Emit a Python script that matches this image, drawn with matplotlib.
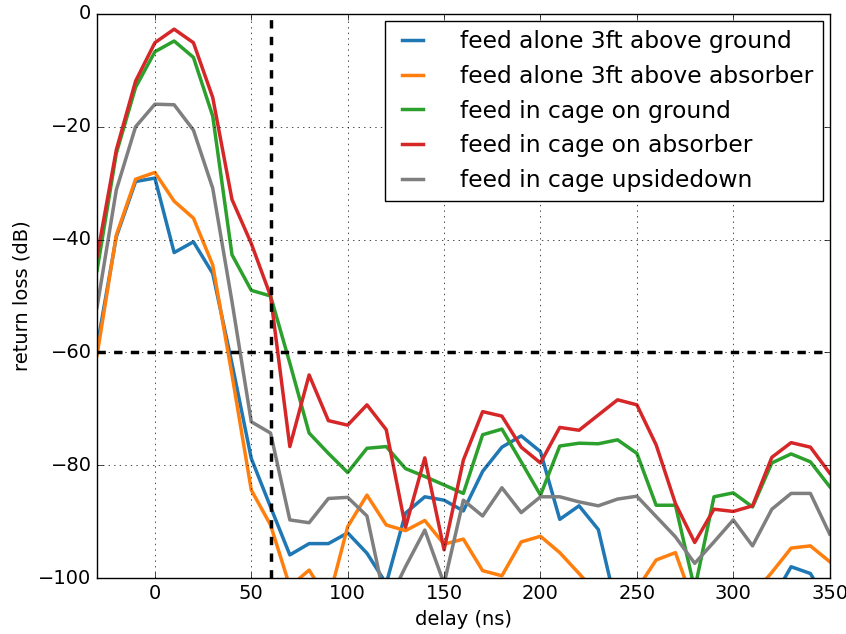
import matplotlib
matplotlib.use("Agg")
import matplotlib.pyplot as plt
import numpy as np

plt.style.use('classic')
plt.rcParams['font.size'] = 14

delay = np.arange(-30, 351, 10)

alone_ground = [-59, -39.5, -29.7, -29.1, -42.3, -40.4, -46, -62, -78.8, -87.4,
                -95.9, -93.9, -93.9, -92, -95.6, -101, -88.5, -85.6, -86.2, -88.1,
                -81.1, -76.8, -74.8, -77.6, -89.6, -87.2, -91.4, -106, -108, -110,
                -107, -112, -109, -108, -111, -104, -98, -99.2, -105]
alone_absorber = [-60.5, -39.2, -29.3, -28.1, -33.2, -36.2, -44.5, -64, -84.4, -90.6,
                  -101.5, -98.6, -104, -90.9, -85.3, -90.6, -91.6, -89.8, -94, -93.1,
                  -98.7, -99.6, -93.6, -92.6, -95.5, -99.2, -103, -106, -102, -96.8,
                  -95.5, -105, -108, -110, -103, -99, -94.7, -94.3, -97.1]
cage_ground = [-45.5, -24.7, -13, -6.7, -4.8, -7.7, -18.1, -42.7, -49, -50,
               -61.9, -74.3, -77.9, -81.3, -77, -76.7, -80.6, -82, -83.5, -85,
               -74.6, -73.6, -79.4, -85.3, -76.6, -76.1, -76.2, -75.5, -77.9, -87.1,
               -87.1, -102, -85.6, -84.9, -87.4, -79.6, -78, -79.4, -83.8]
cage_absorber = [-43, -24.1, -11.9, -5.1, -2.7, -5.1, -14.8, -32.9, -40.7, -50,
                 -76.7, -64, -72.1, -72.9, -69.3, -73.7, -91, -78.7, -95, -79.1,
                 -70.5, -71.3, -76.8, -79.6, -73.3, -73.8, -71.1, -68.4, -69.3, -76.4,
                 -86.8, -93.7, -87.8, -88.2, -87.2, -78.6, -76, -76.8, -81.4]
cage_upside = [-52, -31.2, -20, -16, -16.1, -20.6, -30.9, -51, -72.3, -74.3,
               -89.7, -90.2, -85.9, -85.7, -89, -105, -98, -91.5, -101, -86.2,
               -89, -84, -88.4, -85.6, -85.6, -86.5, -87.2, -86, -85.5, -89.1,
               -92.7, -97.4, -93.6, -89.7, -94.3, -87.8, -85, -85, -92.2]

labels = ['feed alone 3ft above ground', 'feed alone 3ft above absorber',
          'feed in cage on ground', 'feed in cage on absorber',
          'feed in cage upsidedown']
colors = ['#1f77b4', '#ff7f0e', '#2ca02c', '#d62728', '#7f7f7f']

fig = plt.figure(figsize=(8.46, 6.34), dpi=100, facecolor='white')
ax = fig.add_axes([0.1147, 0.0883, 0.866, 0.8897])

for y, lab, c in zip([alone_ground, alone_absorber, cage_ground, cage_absorber, cage_upside],
                     labels, colors):
    ax.plot(delay, y, color=c, lw=2.5, label=lab)

# reference lines at 60 ns / -60 dB
ax.axvline(60, color='k', ls='--', lw=2.5)
ax.axhline(-60, color='k', ls='--', lw=2.5)

ax.set_xlim(-30, 350)
ax.set_ylim(-100, 0)
ax.set_xticks(np.arange(0, 351, 50))
ax.set_yticks(np.arange(-100, 1, 20))
ax.tick_params(labelsize=14)
ax.grid(True)
ax.set_xlabel('delay (ns)', fontsize=14)
ax.set_ylabel('return loss (dB)', fontsize=14)
ax.legend(loc='upper right', fontsize=16.8, handlelength=1.5, handletextpad=1.3,
          borderaxespad=0.3)

fig.savefig('out.png', dpi=100, facecolor='white')
